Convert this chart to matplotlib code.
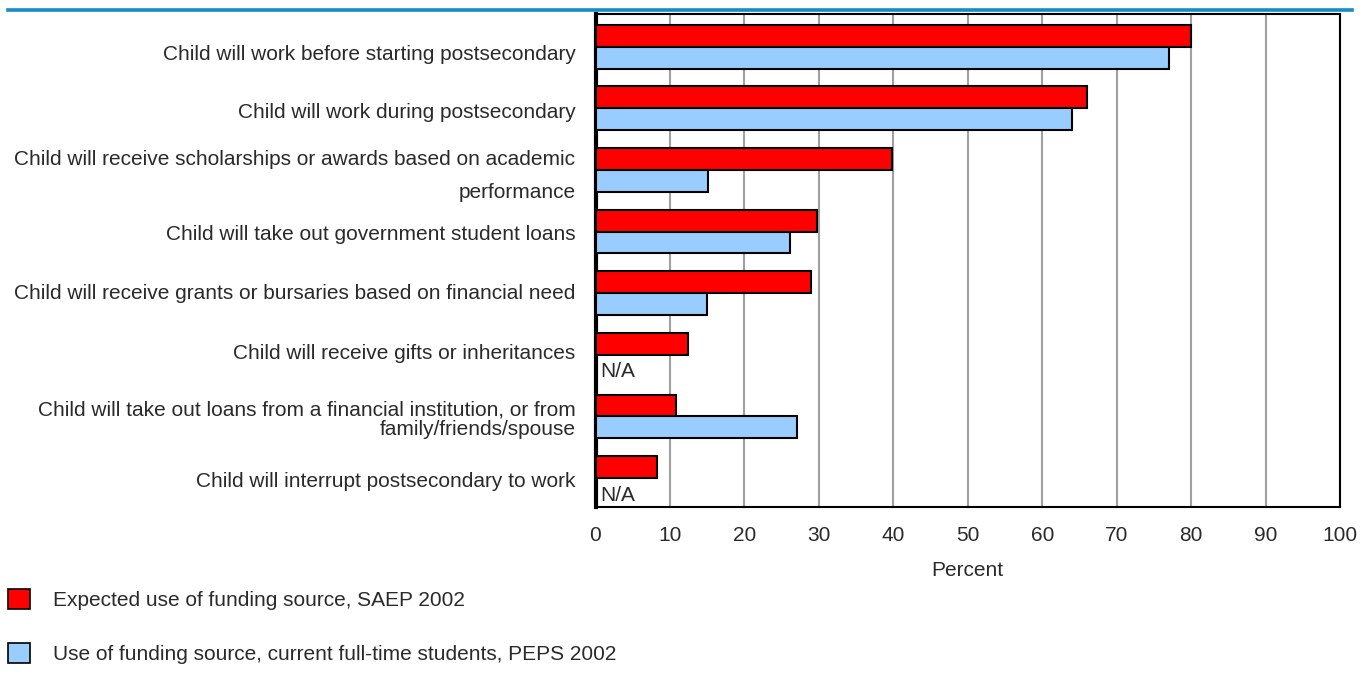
import matplotlib
matplotlib.use("Agg")
import matplotlib.pyplot as plt
import numpy as np
from matplotlib.patches import Patch
from matplotlib.lines import Line2D

categories = [
    "Child will work before starting postsecondary",
    "Child will work during postsecondary",
    "Child will receive scholarships or awards based on academic\nperformance",
    "Child will take out government student loans",
    "Child will receive grants or bursaries based on financial need",
    "Child will receive gifts or inheritances",
    "Child will take out loans from a financial institution, or from\nfamily/friends/spouse",
    "Child will interrupt postsecondary to work",
]
saep_2002 = [80, 66, 39.8, 29.8, 28.9, 12.4, 10.8, 8.2]
peps_2002 = [77, 64, 15.1, 26.1, 15.0, None, 27.1, None]
series_labels = [
    "Expected use of funding source, SAEP 2002",
    "Use of funding source, current full-time students, PEPS 2002",
]
x_ticks = list(range(0, 101, 10))

plt.rcParams["font.family"] = ["Liberation Sans", "DejaVu Sans"]
TEXT = "#2A2A2A"
RED = "#FF0000"
BLUE = "#99CCFF"
FS = 15

fig = plt.figure(figsize=(13.66, 6.75), dpi=100)
L, R, T, B = 595.5, 1340, 14, 507
ax = fig.add_axes([L / 1366, 1 - B / 675, (R - L) / 1366, (B - T) / 675])

n = len(categories)
centers = np.arange(n) + 0.5
h = 0.355
for i, (r, b) in enumerate(zip(saep_2002, peps_2002)):
    c = centers[i]
    ax.barh(c - h / 2 + 0.03, r, height=h, color=RED, edgecolor="black", linewidth=1.5, zorder=3)
    if b is None:
        ax.text(0.6, c + h / 2 + 0.13, "N/A", ha="left", va="center", fontsize=FS,
                color=TEXT, zorder=4)
    else:
        ax.barh(c + h / 2 + 0.03, b, height=h, color=BLUE, edgecolor="black", linewidth=1.5, zorder=3)

ax.set_xlim(0, 100)
ax.set_ylim(n, 0)
ax.set_xticks(x_ticks)
ax.set_xticklabels([str(t) for t in x_ticks], fontsize=FS, color=TEXT)
ax.set_yticks(centers)
ax.set_yticklabels([])

# category labels, right-aligned left of the axis, with small vertical nudges (pixels)
nudges = [10, 6, 8, 5, 2, 1, 5, 5]
spacing = [1.2, 1.2, 1.95, 1.2, 1.2, 1.2, 1.05, 1.2]
for c, text, dy, ls in zip(centers, categories, nudges, spacing):
    ax.annotate(text, xy=(0, c), xycoords=ax.get_yaxis_transform(),
                xytext=(-20, -dy), textcoords="offset pixels",
                ha="right", va="center", fontsize=FS, color=TEXT, linespacing=ls)

ax.tick_params(axis="both", length=0)
ax.tick_params(axis="x", pad=14)
ax.xaxis.grid(True, color="#A0A0A0", linewidth=1.5, zorder=0)
ax.set_axisbelow(True)
for side in ["top", "right", "bottom"]:
    ax.spines[side].set_linewidth(1.5)
ax.spines["left"].set_linewidth(3)
ax.set_xlabel("Percent", fontsize=FS, color=TEXT, labelpad=11)

# header rule
fig.add_artist(Line2D([8 / 1366, 1352 / 1366], [1 - 9.5 / 675, 1 - 9.5 / 675],
                      transform=fig.transFigure, color="#168BC4", linewidth=2.6))

handles = [Patch(facecolor=RED, edgecolor="black", linewidth=1.2),
           Patch(facecolor=BLUE, edgecolor="black", linewidth=1.2)]
fig.legend(handles, series_labels, loc="upper left", bbox_to_anchor=(0.0, 1 - 581 / 675),
           frameon=False, fontsize=FS, handlelength=1.06, handleheight=1.06,
           labelspacing=1.6, handletextpad=1.1, borderaxespad=0.0, labelcolor=TEXT)

fig.savefig("out.png", dpi=100)
